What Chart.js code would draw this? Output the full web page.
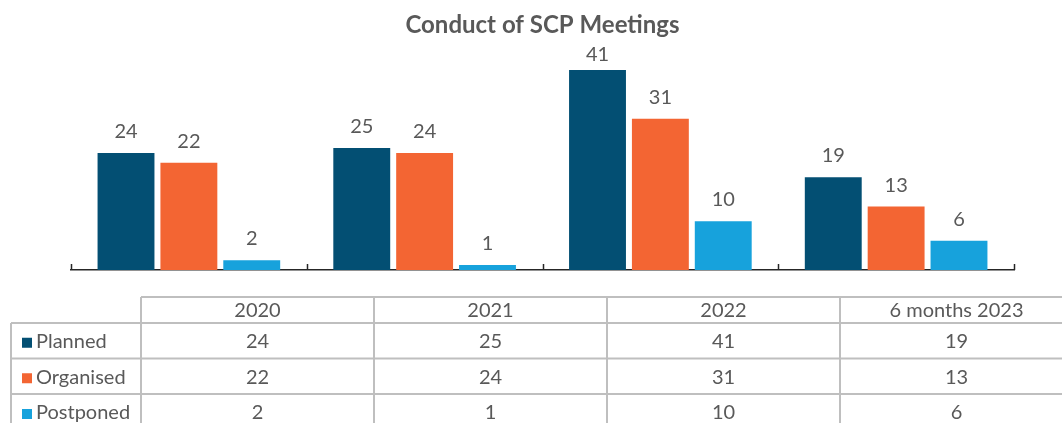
<!DOCTYPE html>
<html>
<head>
<meta charset="utf-8">
<script src="https://cdn.jsdelivr.net/npm/chart.js@4/dist/chart.umd.min.js"></script>
<style>
    html, body { margin: 0; padding: 0; background: #ffffff; }
    #wrap { width: 1062px; height: 423px; position: relative; }
</style>
</head>
<body>
<div id="wrap"><canvas id="chart"></canvas></div>
<script>
// Values
const categories = ['2020', '2021', '2022', '6 months 2023'];
const seriesNames = ['Planned', 'Organised', 'Postponed'];
const planned = [24, 25, 41, 19];
const organised = [22, 24, 31, 13];
const postponed = [2, 1, 10, 6];

const colors = {
    planned: '#034f73',
    organised: '#f36533',
    postponed: '#17a2dc',
    text: '#595959',
    grid: '#bfbfbf',
    axis: '#262626'
};

const FONT = 'Lato, "Open Sans", sans-serif';

// value labels above each bar
const barLabels = {
    id: 'barLabels',
    afterDatasetsDraw(chart) {
        const ctx = chart.ctx;
        const minY = chart.chartArea.top + 10;
        ctx.save();
        ctx.font = '20px ' + FONT;
        ctx.fillStyle = colors.text;
        ctx.textAlign = 'center';
        ctx.textBaseline = 'alphabetic';
        chart.data.datasets.forEach((ds, i) => {
            const meta = chart.getDatasetMeta(i);
            meta.data.forEach((bar, j) => {
                ctx.fillText(String(ds.data[j]), bar.x, Math.max(bar.y - 15, minY));
            });
        });
        ctx.restore();
    }
};

// small upward tick marks at the category boundaries
const axisTicks = {
    id: 'axisTicks',
    afterDraw(chart) {
        const x = chart.scales.x;
        const ctx = chart.ctx;
        const n = chart.data.labels.length;
        const step = x.width / n;
        ctx.save();
        ctx.strokeStyle = colors.axis;
        ctx.lineWidth = 1.5;
        for (let i = 0; i <= n; i++) {
            const px = Math.round(x.left + i * step) + 0.5;
            ctx.beginPath();
            ctx.moveTo(px, x.top);
            ctx.lineTo(px, x.top - 6);
            ctx.stroke();
        }
        ctx.restore();
    }
};

// data table under the plot, like the spreadsheet chart
const dataTable = {
    id: 'dataTable',
    afterDraw(chart) {
        const ctx = chart.ctx;
        const W = chart.width;
        const left = 11, first = 141, colW = 233;
        const rowY = [297, 323, 358.5, 394, 430];
        const rows = [planned, organised, postponed];
        const swatches = [colors.planned, colors.organised, colors.postponed];

        ctx.save();
        ctx.strokeStyle = colors.grid;
        ctx.lineWidth = 2;
        // horizontal lines
        ctx.beginPath();
        ctx.moveTo(first, rowY[0]); ctx.lineTo(W, rowY[0]);
        for (let r = 1; r < rowY.length; r++) {
            ctx.moveTo(left, rowY[r]); ctx.lineTo(W, rowY[r]);
        }
        // vertical lines
        ctx.moveTo(left, rowY[1]); ctx.lineTo(left, rowY[4]);
        for (let c = 0; c <= categories.length; c++) {
            const cx = first + c * colW;
            ctx.moveTo(cx, rowY[0]); ctx.lineTo(cx, rowY[4]);
        }
        ctx.stroke();

        ctx.font = '20px ' + FONT;
        ctx.fillStyle = colors.text;
        ctx.textBaseline = 'middle';
        ctx.textAlign = 'center';
        categories.forEach((cat, c) => {
            ctx.fillText(cat, first + c * colW + colW / 2, (rowY[0] + rowY[1]) / 2 + 1);
        });
        rows.forEach((vals, r) => {
            const cy = (rowY[r + 1] + rowY[r + 2]) / 2 + 1;
            ctx.textAlign = 'center';
            vals.forEach((v, c) => {
                ctx.fillText(String(v), first + c * colW + colW / 2, cy);
            });
            ctx.fillStyle = swatches[r];
            ctx.fillRect(22, cy - 4, 10, 10);
            ctx.fillStyle = colors.text;
            ctx.textAlign = 'left';
            ctx.fillText(seriesNames[r], 36, cy);
        });
        ctx.restore();
    }
};

new Chart(document.getElementById('chart'), {
    type: 'bar',
    data: {
        labels: categories,
        datasets: [
            { label: seriesNames[0], data: planned, backgroundColor: colors.planned },
            { label: seriesNames[1], data: organised, backgroundColor: colors.organised },
            { label: seriesNames[2], data: postponed, backgroundColor: colors.postponed }
        ]
    },
    options: {
        responsive: true,
        maintainAspectRatio: false,
        animation: false,
        layout: { padding: { left: 71, right: 48, top: 0, bottom: 153 } },
        datasets: { bar: { categoryPercentage: 0.8, barPercentage: 0.905 } },
        plugins: {
            legend: { display: false },
            tooltip: { enabled: false },
            title: {
                display: true,
                text: 'Conduct of SCP Meetings',
                color: colors.text,
                font: { family: FONT, size: 24, weight: 'bold' },
                padding: { top: 11, bottom: 10.7 }
            }
        },
        scales: {
            x: {
                grid: { display: false, drawTicks: false, tickLength: 0 },
                ticks: { display: false },
                border: { display: true, color: colors.axis, width: 1.5 }
            },
            y: {
                display: false,
                min: 0,
                max: 45
            }
        }
    },
    plugins: [barLabels, axisTicks, dataTable]
});
</script>
</body>
</html>
